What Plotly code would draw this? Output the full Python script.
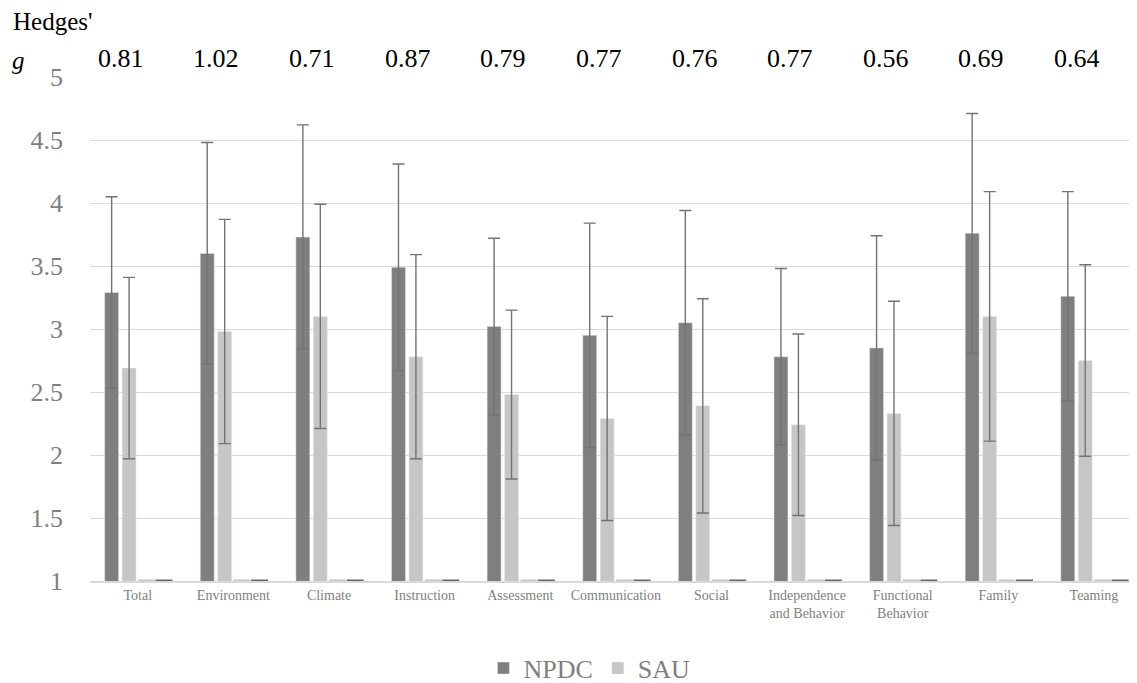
import plotly.graph_objects as go

categories = ["Total", "Environment", "Climate", "Instruction", "Assessment", "Communication",
              "Social", "Independence<br>and Behavior", "Functional<br>Behavior", "Family", "Teaming"]
npdc_mean = [3.29, 3.60, 3.73, 3.49, 3.02, 2.95, 3.05, 2.78, 2.85, 3.76, 3.26]
npdc_sd = [0.76, 0.88, 0.89, 0.82, 0.70, 0.89, 0.89, 0.70, 0.89, 0.95, 0.83]
sau_mean = [2.69, 2.98, 3.10, 2.78, 2.48, 2.29, 2.39, 2.24, 2.33, 3.10, 2.75]
sau_sd = [0.72, 0.89, 0.89, 0.81, 0.67, 0.81, 0.85, 0.72, 0.89, 0.99, 0.76]
hidden_a = [1] * 11
hidden_b = [1] * 11
hedges_g = ["0.81", "1.02", "0.71", "0.87", "0.79", "0.77", "0.76", "0.77", "0.56", "0.69", "0.64"]

DARK = "#7f7f7f"
LIGHT = "#c6c6c6"
ERR = "#737373"
SERIF = "Liberation Serif"

fig = go.Figure()
fig.add_trace(go.Bar(
    x=categories, y=npdc_mean, name="NPDC", marker_color=DARK,
    error_y=dict(type="data", array=npdc_sd, visible=True, color=ERR, thickness=1.4, width=6),
))
fig.add_trace(go.Bar(
    x=categories, y=sau_mean, name="SAU", marker_color=LIGHT,
    error_y=dict(type="data", array=sau_sd, visible=True, color=ERR, thickness=1.4, width=6),
))
fig.add_trace(go.Bar(
    x=categories, y=hidden_a, name="", showlegend=False, hoverinfo="skip",
    marker=dict(color=LIGHT, line=dict(color=LIGHT, width=3)),
))
fig.add_trace(go.Bar(
    x=categories, y=hidden_b, name="", showlegend=False, hoverinfo="skip",
    marker=dict(color=DARK, line=dict(color="#666666", width=3)),
))

for cat, g in zip(categories, hedges_g):
    fig.add_annotation(x=cat, xref="x", y=1.0, yref="paper", yanchor="bottom",
                       text=g, showarrow=False, xshift=-17, yshift=2,
                       font=dict(family=SERIF, size=26, color="#000000"))

LEFT = 82
fig.add_annotation(x=-LEFT / 1047, xref="paper", y=1.0, yref="paper", xanchor="left", yanchor="bottom",
                   xshift=3, yshift=40, text="Hedges'", showarrow=False,
                   font=dict(family=SERIF, size=25, color="#000000"))
fig.add_annotation(x=-LEFT / 1047, xref="paper", y=1.0, yref="paper", xanchor="left", yanchor="bottom",
                   xshift=2, yshift=1, text="<i>g</i>", showarrow=False,
                   font=dict(family=SERIF, size=25, color="#000000"))

fig.update_layout(
    width=1129, height=675, autosize=False,
    margin=dict(l=LEFT, r=0, t=69, b=102, autoexpand=False),
    paper_bgcolor="white", plot_bgcolor="white",
    barmode="group", bargap=0.27, bargroupgap=0.2,
    font=dict(family=SERIF, color=DARK),
    showlegend=True,
    legend=dict(orientation="h", xanchor="center", x=0.477, yanchor="middle", y=-0.173,
                font=dict(family=SERIF, size=26, color=DARK), itemwidth=30,
                bgcolor="rgba(0,0,0,0)"),
    xaxis=dict(range=[-0.5, 10.45], showgrid=False, showline=True, linecolor="#d9d9d9",
               linewidth=1.5, ticks="", tickfont=dict(family=SERIF, size=14, color=DARK),
               tickangle=0, automargin=False),
    yaxis=dict(range=[1, 5], dtick=0.5, showgrid=True, gridcolor="#d9d9d9", gridwidth=1.3,
               zeroline=False, showline=False, ticks="", ticklabelstandoff=26,
               tickfont=dict(family=SERIF, size=26, color=DARK), automargin=False),
)

fig.write_html("out.html")
